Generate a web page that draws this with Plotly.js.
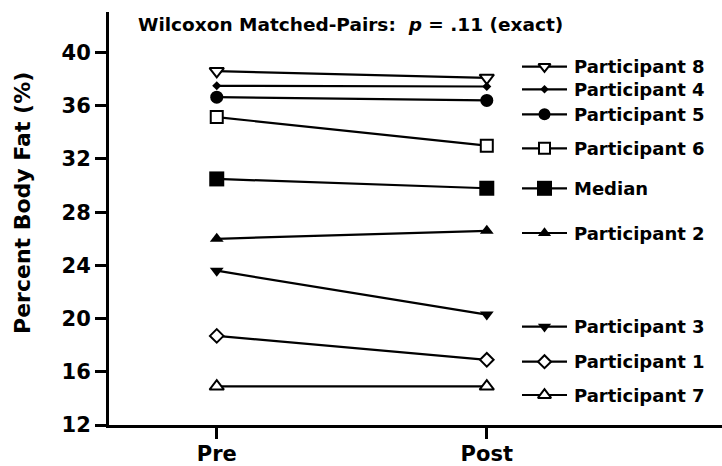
<!DOCTYPE html>
<html>
<head>
<meta charset="utf-8">
<script src="https://cdn.plot.ly/plotly-3.0.1.min.js"></script>
<style>html,body{margin:0;padding:0;background:#fff}#chart{width:722px;height:466px}</style>
</head>
<body>
<div id="chart"></div>
<script>
// ---- data ----
const categories = ['Pre', 'Post'];
const seriesNames = ['Participant 8', 'Participant 4', 'Participant 5', 'Participant 6', 'Median',
                     'Participant 2', 'Participant 3', 'Participant 1', 'Participant 7'];
const preValues  = [38.6, 37.5, 36.65, 35.15, 30.5, 26.0, 23.6, 18.7, 14.9];
const postValues = [38.1, 37.45, 36.4, 33.0, 29.8, 26.6, 20.3, 16.9, 14.9];
const yTicks = [12, 16, 20, 24, 28, 32, 36, 40];
const titleText = 'Wilcoxon Matched-Pairs:  <i>p</i> = .11 (exact)';
const yTitle = 'Percent Body Fat (%)';

// ---- styles ----
const symbols = ['triangle-down', 'diamond', 'circle', 'square', 'square',
                 'triangle-up', 'triangle-down', 'diamond', 'triangle-up'];
const filled  = [false, true, true, false, true, true, true, false, false];
const sizes   = [12.5, 7, 13, 12, 15, 12, 12, 10.5, 12.5];
const legendSizes = [10.5, 6.5, 12, 11, 15, 11.5, 11.5, 10, 11.5];
// legend rows, in pixel units of an overlay axis
const legendRowPx = [66.7, 89.3, 114.3, 148.3, 188.3, 233, 326.7, 361.7, 395];
const legendLinePx = [522, 567];
const legendMarkPx = 544.5;
const legendTextPx = 572;

const FONT = 'DejaVu Sans';
const traces = [];
const annotations = [];

seriesNames.forEach((name, i) => {
  const marker = {
    symbol: symbols[i],
    size: sizes[i],
    color: filled[i] ? 'black' : 'white',
    line: {color: 'black', width: filled[i] ? 0 : 2}
  };
  traces.push({
    x: categories, y: [preValues[i], postValues[i]],
    type: 'scatter', mode: 'lines+markers', name: name,
    line: {color: 'black', width: 2.2},
    marker: marker, cliponaxis: false, showlegend: false, hoverinfo: 'skip'
  });
  // custom legend line
  traces.push({
    x: legendLinePx, y: [legendRowPx[i], legendRowPx[i]],
    xaxis: 'x2', yaxis: 'y2', type: 'scatter', mode: 'lines',
    line: {color: 'black', width: 2.2}, showlegend: false, hoverinfo: 'skip', cliponaxis: false
  });
  traces.push({
    x: [legendMarkPx], y: [legendRowPx[i]],
    xaxis: 'x2', yaxis: 'y2', type: 'scatter', mode: 'markers',
    marker: Object.assign({}, marker, {size: legendSizes[i]}),
    showlegend: false, hoverinfo: 'skip', cliponaxis: false
  });
  annotations.push({
    xref: 'x2', yref: 'y2', x: legendTextPx, y: legendRowPx[i],
    xanchor: 'left', yanchor: 'middle', showarrow: false,
    text: name, font: {family: FONT, size: 18, color: 'black', weight: 'bold'}
  });
});

annotations.push({
  xref: 'x2', yref: 'y2', x: 350, y: 24, xanchor: 'center', yanchor: 'middle',
  showarrow: false, text: titleText,
  font: {family: FONT, size: 18.5, color: 'black', weight: 'bold'}
});
annotations.push({
  xref: 'paper', yref: 'paper', x: -0.142, y: 0.5375, xanchor: 'center', yanchor: 'middle',
  showarrow: false, text: yTitle, textangle: -90,
  font: {family: FONT, size: 22, color: 'black', weight: 'bold'}
});

const layout = {
  width: 722, height: 466,
  margin: {l: 109, r: 0, t: 12, b: 41, pad: 0},
  paper_bgcolor: 'white', plot_bgcolor: 'white',
  showlegend: false,
  xaxis: {
    type: 'category', range: [-0.399, 1.871],
    showline: true, linecolor: 'black', linewidth: 3,
    ticks: 'outside', ticklen: 11, tickwidth: 3, tickcolor: 'black',
    ticklabelstandoff: -3,
    showgrid: false, zeroline: false, fixedrange: true,
    tickfont: {family: FONT, size: 21, color: 'black', weight: 'bold'}
  },
  yaxis: {
    range: [12, 43.05], tickvals: yTicks, ticktext: yTicks.map(String),
    showline: true, linecolor: 'black', linewidth: 3,
    ticks: 'outside', ticklen: 11, tickwidth: 3, tickcolor: 'black',
    showgrid: false, zeroline: false, fixedrange: true,
    tickfont: {family: FONT, size: 21, color: 'black', weight: 'bold'}
  },
  xaxis2: {overlaying: 'x', range: [109, 722], visible: false, fixedrange: true},
  yaxis2: {overlaying: 'y', range: [425, 12], visible: false, fixedrange: true},
  annotations: annotations
};

Plotly.newPlot('chart', traces, layout, {staticPlot: true, displayModeBar: false});
</script>
</body>
</html>
